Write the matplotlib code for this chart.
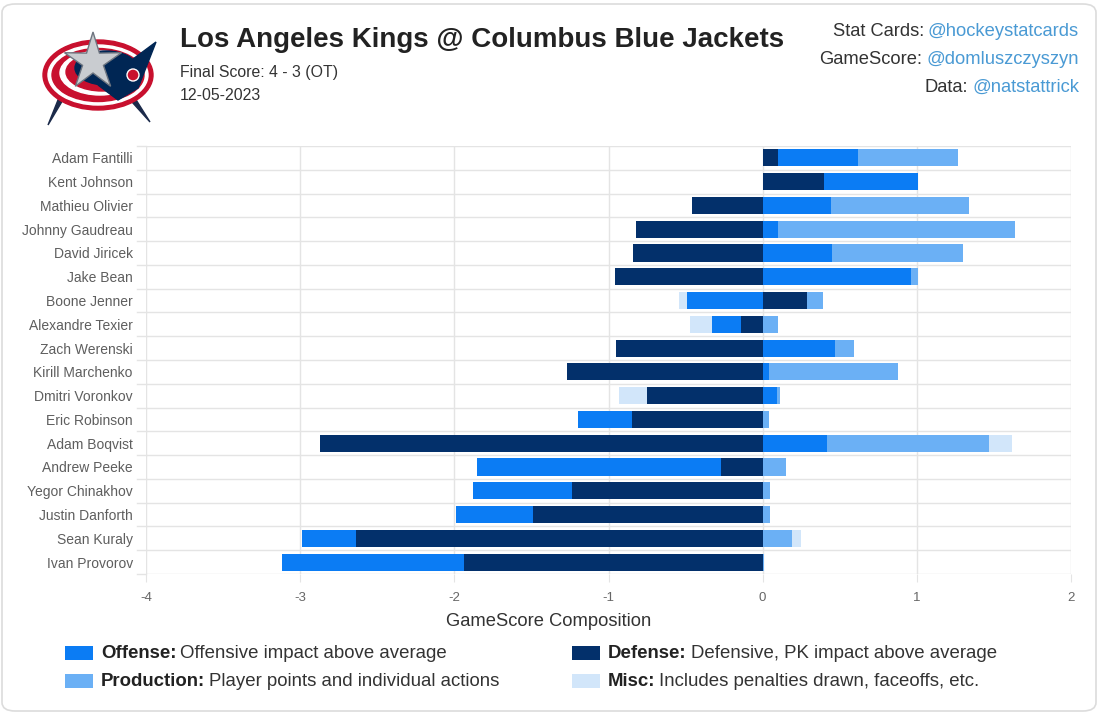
import numpy as np
import matplotlib
matplotlib.use("Agg")
import matplotlib.pyplot as plt
from matplotlib.patches import FancyBboxPatch, Polygon, Ellipse, Circle, Rectangle

plt.rcParams['font.family'] = ['Liberation Sans', 'DejaVu Sans']

players = ["Adam Fantilli", "Kent Johnson", "Mathieu Olivier", "Johnny Gaudreau",
           "David Jiricek", "Jake Bean", "Boone Jenner", "Alexandre Texier",
           "Zach Werenski", "Kirill Marchenko", "Dmitri Voronkov", "Eric Robinson",
           "Adam Boqvist", "Andrew Peeke", "Yegor Chinakhov", "Justin Danforth",
           "Sean Kuraly", "Ivan Provorov"]
defense = [0.10, 0.40, -0.46, -0.82, -0.84, -0.96, 0.29, -0.14, -0.95, -1.27,
           -0.75, -0.85, -2.87, -0.27, -1.24, -1.49, -2.64, -1.94]
offense = [0.52, 0.61, 0.44, 0.10, 0.45, 0.96, -0.49, -0.19, 0.47, 0.04,
           0.09, -0.35, 0.42, -1.58, -0.64, -0.50, -0.35, -1.18]
production = [0.65, 0.0, 0.90, 1.54, 0.85, 0.05, 0.10, 0.10, 0.12, 0.84,
              0.025, 0.04, 1.05, 0.15, 0.05, 0.05, 0.19, 0.01]
misc = [0.0, 0.0, 0.0, 0.0, 0.0, 0.0, -0.05, -0.14, 0.0, 0.0,
        -0.18, 0.0, 0.15, 0.0, 0.0, 0.0, 0.06, 0.0]
x_ticks = [-4, -3, -2, -1, 0, 1, 2]

series = [("Offense", offense, '#0b7cf4'),
          ("Defense", defense, '#03306b'),
          ("Production", production, '#6bb0f5'),
          ("Misc", misc, '#d2e6fa')]
stack_order = ["Defense", "Offense", "Production", "Misc"]
legend_desc = {"Offense": "Offensive impact above average",
               "Defense": "Defensive, PK impact above average",
               "Production": "Player points and individual actions",
               "Misc": "Includes penalties drawn, faceoffs, etc."}

W, H = 1098, 714
fig = plt.figure(figsize=(W / 100, H / 100), dpi=100)
fig.patch.set_facecolor('white')

def fx(x):
    return x / W

def fy(y):
    return 1 - y / H

# card border
card = FancyBboxPatch((fx(2), fy(711)), fx(1094), 707 / H,
                      boxstyle="round,pad=0,rounding_size=0.012",
                      transform=fig.transFigure, facecolor='none',
                      edgecolor='#dcdcdc', linewidth=1.2, zorder=-10)
fig.patches.append(card)

ax = fig.add_axes([fx(146), fy(574), fx(1071 - 146), (574 - 146) / H])
ax.set_facecolor('none')
n = len(players)
y = np.arange(n)
colors = {name: c for name, _, c in series}
vals = {name: np.array(v, dtype=float) for name, v, _ in series}
pos_base = np.zeros(n)
neg_base = np.zeros(n)
for name in stack_order:
    v = vals[name]
    left = np.where(v >= 0, pos_base, neg_base)
    ax.barh(y, v, left=left, height=0.72, color=colors[name], linewidth=0, zorder=3)
    pos_base = pos_base + np.where(v >= 0, v, 0)
    neg_base = neg_base + np.where(v < 0, v, 0)

ax.set_xlim(-4, 2)
ax.set_ylim(n - 0.5, -0.5)
ax.set_xticks(x_ticks)
ax.set_xticklabels([str(t) for t in x_ticks])
ax.set_yticks(y)
ax.set_yticklabels(players)
grid_c = '#e4e4e4'
for b in np.arange(-0.5, n, 1.0):
    ax.axhline(b, color=grid_c, lw=1, zorder=1)
for t in x_ticks:
    ax.axvline(t, color=grid_c, lw=1, zorder=1)
for s in ax.spines.values():
    s.set_visible(False)
ax.tick_params(axis='y', length=0, pad=9.5, labelsize=10, labelcolor='#5e5e5e')
ax.tick_params(axis='x', length=6, color=grid_c, pad=7, labelsize=9.5, labelcolor='#666666')
for b in np.arange(-0.5, n, 1.0):
    ax.plot([-4.06, -4], [b, b], color=grid_c, lw=1, clip_on=False, zorder=1)
fig.text(fx(549), fy(621), "GameScore Composition", fontsize=13.2, color='#333333',
         ha='center', va='center')

# Header
fig.text(fx(180), fy(40), "Los Angeles Kings @ Columbus Blue Jackets", fontsize=20,
         fontweight='bold', color='#222222', va='center', ha='left')
fig.text(fx(180), fy(72), "Final Score: 4 - 3 (OT)", fontsize=11.4, color='#333333',
         va='center', ha='left')
fig.text(fx(180), fy(96), "12-05-2023", fontsize=11.4, color='#333333',
         va='center', ha='left')

fig.canvas.draw()
renderer = fig.canvas.get_renderer()
link_c = '#4a9ad4'
for label, handle, yy in [("Stat Cards:", "@hockeystatcards", 32),
                          ("GameScore:", "@domluszczyszyn", 60),
                          ("Data:", "@natstattrick", 87)]:
    t = fig.text(fx(1079), fy(yy), handle, fontsize=13.2, color=link_c,
                 ha='right', va='center')
    bb = t.get_window_extent(renderer)
    fig.text(bb.x0 / fig.dpi / fig.get_figwidth() - fx(4), fy(yy), label, fontsize=13.2,
             color='#333333', ha='right', va='center')

# Legend
leg_items = [("Offense", 65, 653), ("Defense", 572, 653),
             ("Production", 65, 681), ("Misc", 572, 681)]
for name, lx, ly in leg_items:
    fig.patches.append(Rectangle((fx(lx), fy(ly + 7)), fx(28), 14 / H,
                                 transform=fig.transFigure, facecolor=colors[name],
                                 edgecolor='none'))
    tb = fig.text(fx(lx + 36), fy(ly), name + ":", fontsize=13.4, fontweight='bold',
                  color='#222222', ha='left', va='center')
    bb = tb.get_window_extent(renderer)
    fig.text(bb.x1 / fig.dpi / fig.get_figwidth() + fx(4), fy(ly), legend_desc[name],
             fontsize=13.4, color='#333333', ha='left', va='center')

# Simplified logo
lax = fig.add_axes([fx(38), fy(130), fx(122), 105 / H])
lax.set_xlim(0, 122)
lax.set_ylim(0, 105)
lax.set_aspect('equal')
lax.axis('off')
lax.add_patch(Polygon([[22, 35], [32, 42], [10, 5]], closed=True, color='#1b2a4a'))
lax.add_patch(Polygon([[85, 38], [95, 35], [112, 8]], closed=True, color='#1b2a4a'))
lax.add_patch(Ellipse((60, 55), 110, 70, color='#c8102e'))
lax.add_patch(Ellipse((60, 55), 100, 60, color='white'))
lax.add_patch(Ellipse((60, 55), 92, 53, color='#c8102e'))
lax.add_patch(Ellipse((62, 57), 80, 44, color='white'))
lax.add_patch(Ellipse((64, 58), 72, 38, color='#c8102e'))
lax.add_patch(Ellipse((68, 62), 62, 34, color='#002654'))
lax.add_patch(Polygon([[60, 45], [118, 88], [100, 42], [80, 30]], closed=True, color='#002654'))
lax.add_patch(Circle((95, 55), 6, color='#c8102e', ec='white', lw=1))
star = []
cx, cy = 55, 68
for i in range(10):
    ang = np.pi / 2 + i * np.pi / 5
    r = 30 if i % 2 == 0 else 11
    star.append([cx + r * np.cos(ang), cy + r * np.sin(ang)])
lax.add_patch(Polygon(star, closed=True, facecolor='#c9ccd0', edgecolor='#6e7580', lw=1))

fig.savefig("out.png", dpi=100, facecolor='white')
